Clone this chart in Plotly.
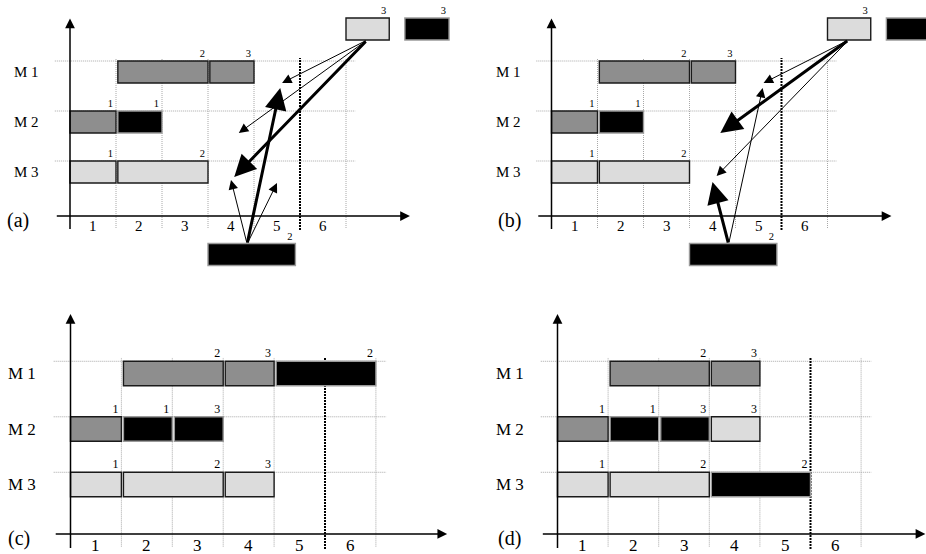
import plotly.graph_objects as go

# ---------------- data ----------------
JOB_COLORS = {"J1": "#8e8e8e", "J2": "#000000", "J3": "#dcdcdc"}
JOB_EDGE = {"J1": "#1a1a1a", "J2": "#9a9a9a", "J3": "#1a1a1a"}
ROW_POS = {"M 1": 3, "M 2": 2, "M 3": 1}
ROW_LABELS = ["M 1", "M 2", "M 3"]
TICK_LABELS = ["1", "2", "3", "4", "5", "6"]
PANEL_LABELS = ["(a)", "(b)", "(c)", "(d)"]

# schedule of panels (a) and (b)
ab_machine = ["M 1", "M 1", "M 2", "M 2", "M 3", "M 3"]
ab_job = ["J1", "J1", "J1", "J2", "J3", "J3"]
ab_start = [1, 3, 0, 1, 0, 1]
ab_end = [3, 4, 1, 2, 1, 3]
ab_op = ["2", "3", "1", "1", "1", "2"]

# candidate operations floating in (a) and (b)
cand_job = ["J3", "J2", "J2"]
cand_op = ["3", "3", "2"]
cand_start = [6.0, 7.28, 3.0]
cand_end = [6.94, 8.24, 4.9]
cand_level = [3.86, 3.86, -0.65]

# schedule of panel (c)
c_machine = ["M 1", "M 1", "M 1", "M 2", "M 2", "M 2", "M 3", "M 3", "M 3"]
c_job = ["J1", "J1", "J2", "J1", "J2", "J2", "J3", "J3", "J3"]
c_start = [1, 3, 4, 0, 1, 2, 0, 1, 3]
c_end = [3, 4, 6, 1, 2, 3, 1, 3, 4]
c_op = ["2", "3", "2", "1", "1", "3", "1", "2", "3"]

# schedule of panel (d)
d_machine = ["M 1", "M 1", "M 2", "M 2", "M 2", "M 2", "M 3", "M 3", "M 3"]
d_job = ["J1", "J1", "J1", "J2", "J2", "J3", "J3", "J3", "J2"]
d_start = [1, 3, 0, 1, 2, 3, 0, 1, 3]
d_end = [3, 4, 1, 2, 3, 4, 1, 3, 5]
d_op = ["2", "3", "1", "1", "3", "3", "1", "2", "2"]

# arrows (tail x, tail y, head x, head y, thick)
a_arrows = [
    (6.46, 3.64, 4.61, 2.78, False),
    (6.46, 3.64, 3.67, 1.78, False),
    (6.46, 3.64, 3.57, 0.90, True),
    (3.85, -0.44, 3.50, 0.84, False),
    (3.85, -0.44, 4.50, 0.78, False),
    (3.85, -0.44, 4.57, 2.68, True),
]
b_arrows = [
    (6.46, 3.64, 4.61, 2.78, False),
    (6.46, 3.64, 3.67, 1.78, True),
    (6.46, 3.64, 3.59, 0.92, False),
    (3.85, -0.44, 3.50, 0.80, True),
    (3.85, -0.44, 4.59, 2.68, False),
]

BOUND = 5  # bold dotted bound line

# ---------------- layout geometry ----------------
W, H = 926, 554
FONT = "Liberation Serif, Times New Roman, serif"
# name: (x dom px, y dom px, x origin px, x unit px, y zero px, y unit px)
panels = {
    "a": ((0, 463), (0, 277), 70.0, 46.0, 222.0, 50.0),
    "b": ((463, 926), (0, 277), 551.5, 46.0, 222.0, 50.0),
    "c": ((0, 463), (277, 554), 70.5, 50.9, 540.0, 55.5),
    "d": ((463, 926), (277, 554), 557.5, 50.6, 540.0, 55.5),
}
panel_label_x = {"a": -1.12, "b": -0.91, "c": -1.01, "d": -0.95}
label_size = {"a": 15, "b": 15, "c": 17, "d": 17}
op_size = {"a": 10.5, "b": 10.5, "c": 12, "d": 12}
axis_y = {"a": 0.12, "b": 0.12, "c": 0.11, "d": 0.11}
xaxis_end = {"a": 7.39, "b": 7.39, "c": 7.4, "d": 7.27}

fig = go.Figure()
layout = dict(width=W, height=H, margin=dict(l=0, r=0, t=0, b=0),
              paper_bgcolor="white", plot_bgcolor="white",
              showlegend=False, barmode="overlay")
annotations = []
shapes = []

BAR_H = 0.44
GAP = 0.04

for i, (name, (xd, yd, x0, ux, y0, uy)) in enumerate(panels.items()):
    sfx = "" if i == 0 else str(i + 1)
    xa, ya = "x" + sfx, "y" + sfx
    xr = [(xd[0] - x0) / ux, (xd[1] - x0) / ux]
    yr = [(y0 - yd[1]) / uy, (y0 - yd[0]) / uy]
    layout["xaxis" + sfx] = dict(domain=[xd[0] / W, xd[1] / W], range=xr, visible=False,
                                 anchor=ya, fixedrange=True)
    layout["yaxis" + sfx] = dict(domain=[1 - yd[1] / H, 1 - yd[0] / H], range=yr, visible=False,
                                 anchor=xa, fixedrange=True)
    ay0 = axis_y[name]
    dx_lab = -3.0 / ux   # op label: 3 px left of the bar end
    dy_lab = 1.0 / uy    # op label: just above the bar top

    # grid lines
    for r in ROW_LABELS:
        top = ROW_POS[r] + BAR_H / 2
        shapes.append(dict(type="line", xref=xa, yref=ya, x0=-0.33, x1=6.2, y0=top, y1=top,
                           line=dict(color="#a8a8a8", width=1, dash="1px,1px"), layer="below"))
    for k in range(1, len(TICK_LABELS) + 1):
        if k == BOUND:
            shapes.append(dict(type="line", xref=xa, yref=ya, x0=k, x1=k, y0=-0.16, y1=3.28,
                               line=dict(color="#000", width=2, dash="2px,1px"), layer="below"))
        else:
            shapes.append(dict(type="line", xref=xa, yref=ya, x0=k, x1=k, y0=-0.12, y1=3.28,
                               line=dict(color="#a8a8a8", width=1, dash="1px,1px"), layer="below"))

    # axes with arrows
    annotations.append(dict(xref=xa, yref=ya, axref=xa, ayref=ya, x=0, y=4.07, ax=0, ay=-0.17,
                            text="", showarrow=True, arrowhead=2, arrowsize=1.3, arrowwidth=1.5,
                            arrowcolor="#000", standoff=0, startstandoff=0))
    annotations.append(dict(xref=xa, yref=ya, axref=xa, ayref=ya, x=xaxis_end[name], y=ay0,
                            ax=-0.32, ay=ay0,
                            text="", showarrow=True, arrowhead=2, arrowsize=1.3, arrowwidth=1.5,
                            arrowcolor="#000", standoff=0, startstandoff=0))

    # labels
    for k, t in enumerate(TICK_LABELS):
        annotations.append(dict(xref=xa, yref=ya, x=k + 0.5, y=ay0 - 0.2, text=t, showarrow=False,
                                font=dict(family=FONT, size=label_size[name], color="#000"),
                                xanchor="center", yanchor="middle"))
    for r in ROW_LABELS:
        annotations.append(dict(xref=xa, yref=ya, x=-0.63, y=ROW_POS[r], text=r, showarrow=False,
                                font=dict(family=FONT, size=label_size[name], color="#000"),
                                xanchor="right", yanchor="middle"))
    annotations.append(dict(xref=xa, yref=ya, x=panel_label_x[name], y=ay0 - 0.09,
                            text=PANEL_LABELS[i], showarrow=False,
                            font=dict(family=FONT, size=20, color="#000"),
                            xanchor="center", yanchor="middle"))

    # schedule bars
    if name in ("a", "b"):
        mach, job, st, en, op = ab_machine, ab_job, ab_start, ab_end, ab_op
    elif name == "c":
        mach, job, st, en, op = c_machine, c_job, c_start, c_end, c_op
    else:
        mach, job, st, en, op = d_machine, d_job, d_start, d_end, d_op
    ys = [ROW_POS[m] for m in mach]
    base = [a + GAP if a > 0 else a for a in st]
    fig.add_trace(go.Bar(orientation="h", y=ys, base=base,
                         x=[e - b for e, b in zip(en, base)], width=BAR_H,
                         marker=dict(color=[JOB_COLORS[j] for j in job],
                                     line=dict(color=[JOB_EDGE[j] for j in job], width=1.4)),
                         xaxis=xa, yaxis=ya, hoverinfo="skip"))
    fig.add_trace(go.Scatter(x=[e + dx_lab for e in en], y=[v + BAR_H / 2 + dy_lab for v in ys],
                             text=op, mode="text", textposition="top left",
                             textfont=dict(family=FONT, size=op_size[name], color="#000"),
                             xaxis=xa, yaxis=ya, hoverinfo="skip", cliponaxis=False))

    if name in ("a", "b"):
        fig.add_trace(go.Bar(orientation="h", y=cand_level, base=cand_start,
                             x=[e - b for e, b in zip(cand_end, cand_start)], width=BAR_H,
                             marker=dict(color=[JOB_COLORS[j] for j in cand_job],
                                         line=dict(color=[JOB_EDGE[j] for j in cand_job], width=1.4)),
                             xaxis=xa, yaxis=ya, hoverinfo="skip"))
        vis = [k for k, e in enumerate(cand_end) if e < xr[1]]
        fig.add_trace(go.Scatter(x=[cand_end[k] + dx_lab for k in vis],
                                 y=[cand_level[k] + BAR_H / 2 + dy_lab for k in vis],
                                 text=[cand_op[k] for k in vis], mode="text", textposition="top left",
                                 textfont=dict(family=FONT, size=op_size[name], color="#000"),
                                 xaxis=xa, yaxis=ya, hoverinfo="skip", cliponaxis=False))
        arrows = a_arrows if name == "a" else b_arrows
        for (tx, ty, hx, hy, thick) in arrows:
            annotations.append(dict(xref=xa, yref=ya, axref=xa, ayref=ya, x=hx, y=hy, ax=tx, ay=ty,
                                    text="", showarrow=True, arrowhead=2,
                                    arrowsize=1.45 if thick else 1.9,
                                    arrowwidth=3 if thick else 1,
                                    arrowcolor="#000", standoff=0, startstandoff=0))

layout["annotations"] = annotations
layout["shapes"] = shapes
fig.update_layout(**layout)
fig.write_html("out.html", config={"displayModeBar": False, "staticPlot": True},
               post_script="document.body.style.margin='0px';document.body.style.overflow='hidden';")
